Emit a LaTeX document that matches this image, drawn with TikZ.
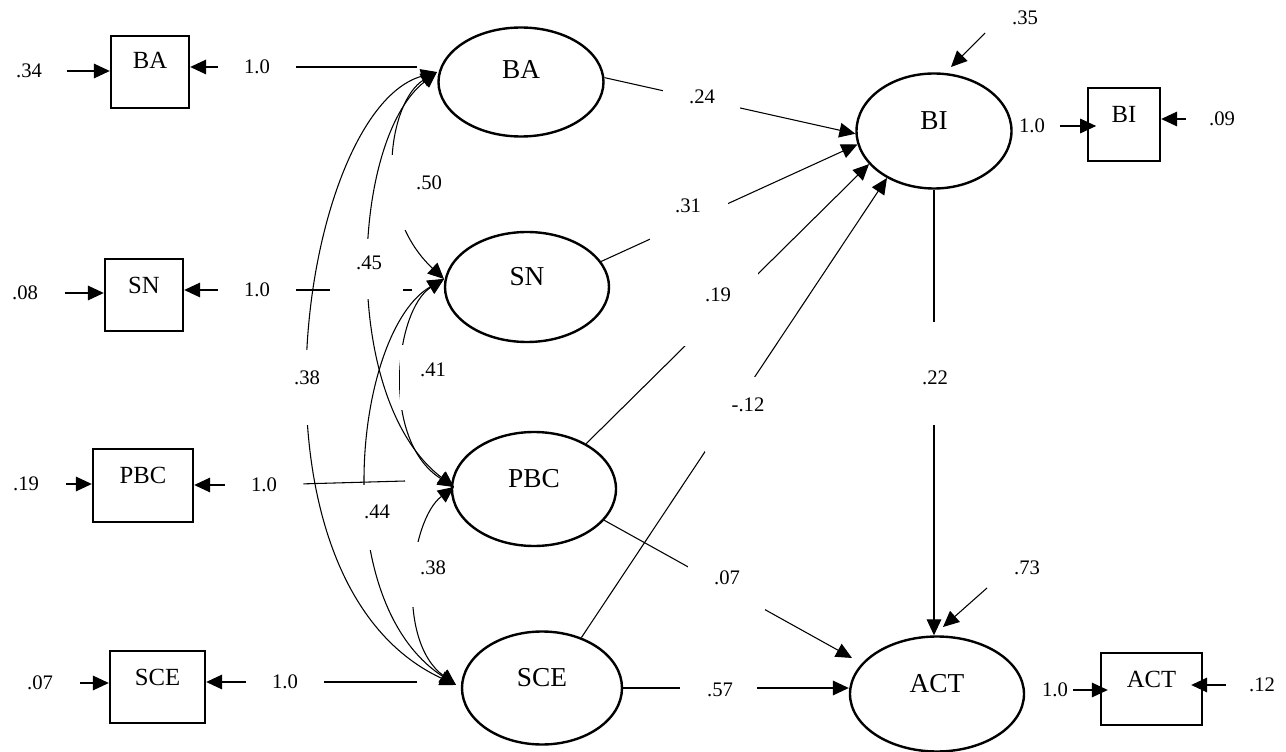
\documentclass[tikz,border=0pt]{standalone}
\usepackage{fontspec}
\setmainfont{Liberation Serif}
\usetikzlibrary{arrows.meta,shapes.geometric}
\newcommand\latfont{\fontsize{20.5}{24}\selectfont}
\newcommand\obsfont{\fontsize{18.5}{22}\selectfont}
\newcommand\coeffont{\fontsize{15.5}{18}\selectfont}
\begin{document}
\begin{tikzpicture}[x=0.75pt,y=-0.75pt,
  tip/.tip={Triangle[length=12pt,width=11pt]},
  conn/.style={line width=0.8pt},
  arr/.style={line width=0.8pt,-tip},
  darr/.style={line width=0.8pt,tip-tip},
  lat/.style={draw,line width=1.8pt,ellipse,inner sep=0pt},
  obs/.style={draw,line width=1.8pt,rectangle,inner sep=0pt},
  lattext/.style={font=\latfont,inner sep=0pt,yshift=8pt},
  obstext/.style={font=\obsfont,inner sep=0pt,yshift=7.5pt},
  coef/.style={font=\coeffont,inner sep=0pt},
  mask/.style={fill=white}
]
\useasboundingbox (0,0) rectangle (1286,752);

% latent variables
\node[lat,minimum width=123.75pt,minimum height=81.75pt,label={[lattext,yshift=1.5pt]center:BA}] (eBA) at (521,82) {};
\node[lat,minimum width=123pt,minimum height=82.5pt,label={[lattext]center:SN}] (eSN) at (527,287) {};
\node[lat,minimum width=123pt,minimum height=85.5pt,label={[lattext]center:PBC}] (ePBC) at (534,489) {};
\node[lat,minimum width=120pt,minimum height=84.75pt,label={[lattext]center:SCE}] (eSCE) at (542,688) {};
\node[lat,minimum width=116.25pt,minimum height=86.25pt,label={[lattext]center:BI}] (eBI) at (934,131) {};
\node[lat,minimum width=130.5pt,minimum height=86.25pt,label={[lattext]center:ACT}] (eACT) at (937,694) {};

% observed variables
\node[obs,minimum width=58.5pt,minimum height=54pt,label={[obstext,yshift=1.5pt]center:BA}] (bBA) at (150,72) {};
\node[obs,minimum width=58.5pt,minimum height=54pt,label={[obstext]center:SN}] (bSN) at (144,295) {};
\node[obs,minimum width=75pt,minimum height=54.75pt,label={[obstext]center:PBC}] (bPBC) at (143,485.5) {};
\node[obs,minimum width=71.25pt,minimum height=54pt,label={[obstext]center:SCE}] (bSCE) at (157.5,687) {};
\node[obs,minimum width=54pt,minimum height=54.75pt,label={[obstext]center:BI}] (bBI) at (1124,124.5) {};
\node[obs,minimum width=75.75pt,minimum height=54pt,label={[obstext]center:ACT}] (bACT) at (1151.5,689) {};

% error terms of the indicators
\node[coef,minimum width=56pt] (r34) at (29,71) {.34};
\node[coef,minimum width=60pt] (r08) at (25,293) {.08};
\node[coef,minimum width=60pt] (r19) at (26,484) {.19};
\node[coef,minimum width=60pt] (r07) at (40,683) {.07};
\draw[arr] (r34) -- (r34 -| bBA.west);
\draw[arr] (r08) -- (r08 -| bSN.west);
\draw[arr] (r19) -- (r19 -| bPBC.west);
\draw[arr] (r07) -- (r07 -| bSCE.west);

% loadings on the left
\node[coef,minimum width=58.5pt] (lBA) at (257,67) {1.0};
\node[coef,minimum width=58.5pt] (lSN) at (257,290) {1.0};
\node[coef,minimum width=58.5pt] (lPBC) at (264,485) {1.0};
\node[coef,minimum width=58.5pt] (lSCE) at (285,682) {1.0};
\coordinate (cBA) at (417,67);
\coordinate (cSN) at (412,290);
\coordinate (cPBC) at (405,481);
\coordinate (cSCE) at (417,682);
\draw[conn] (cBA) -- (lBA);   \draw[arr] (lBA) -- (lBA -| bBA.east);
\draw[conn] (cSN) -- (lSN);   \draw[arr] (lSN) -- (lSN -| bSN.east);
\draw[conn] (cPBC) -- (lPBC); \draw[arr] (lPBC) -- (lPBC -| bPBC.east);
\draw[conn] (cSCE) -- (lSCE); \draw[arr] (lSCE) -- (lSCE -| bSCE.east);

% loadings and errors on the right
\node[coef,minimum width=42pt] (lBI) at (1032,126) {1.0};
\node[coef,minimum width=54pt] (r09) at (1222,119) {.09};
\draw[arr,shorten >=-7pt] (lBI) -- (lBI -| bBI.west);
\draw[arr] (r09) -- (r09 -| bBI.east);
\node[coef,minimum width=27pt] (lACT) at (1055,690) {1.0};
\node[coef,minimum width=54pt] (r12) at (1262,685) {.12};
\draw[arr,shorten >=-6pt] (lACT) -- (lACT -| bACT.west);
\draw[arr,shorten >=-9pt] (r12) -- (r12 -| bACT.east);

% disturbances
\node[coef] (r35) at (1025,18) {.35};
\node[coef] (r73) at (1027,568) {.73};
\coordinate (s35) at (985,33);  \coordinate (t35) at (951,67);
\coordinate (s73) at (987,588); \coordinate (t73) at (943,627);
\draw[arr] (s35) -- (t35);
\draw[arr] (s73) -- (t73);

% covariances
\coordinate (aBA) at (437,72);
\coordinate (aSN) at (444,279);
\coordinate (aPBC) at (454,487);
\coordinate (aSCE) at (456,685);
\draw[darr] (aBA) .. controls (390,100) and (370,210) .. (aSN);
\draw[darr] (aBA) .. controls (350,140) and (340,400) .. (aPBC);
\draw[darr] (aBA) .. controls (300,110) and (230,580) .. (aSCE);
\draw[darr] (aSN) .. controls (395,310) and (380,440) .. (aPBC);
\draw[darr] (aSN) .. controls (355,330) and (325,600) .. (aSCE);
\draw[darr] (aPBC) .. controls (410,520) and (395,640) .. (aSCE);

% structural paths
\coordinate (tACT) at (852,658);
\draw[arr] (eBA.3) -- (eBI.182);
\draw[arr] (eSN.19) -- (eBI.190);
\draw[arr] (ePBC.41) -- (eBI.207);
\draw[arr] (eSCE.52) -- (eBI.225);
\draw[arr] (ePBC.336) -- (tACT);
\draw[arr] (eSCE.east) -- (eSCE.east -| eACT.west);
\draw[arr] (eBI.south) -- (eBI.south |- eACT.north);

% gaps behind the coefficients
\fill[mask] (663,80) rectangle (740,118);
\fill[mask] (650,195) rectangle (728,245);
\fill[mask] (683,270) rectangle (758,346);
\fill[mask] (705,377) rectangle (783,452);
\fill[mask] (688,555) rectangle (765,610);
\fill[mask] (680,675) rectangle (757,705);
\fill[mask] (915,322) rectangle (955,425);
\fill[mask] (390,155) rectangle (468,230);
\fill[mask] (330,239) rectangle (403,299);
\fill[mask] (270,350) rectangle (345,425);
\fill[mask] (400,345) rectangle (468,410);
\fill[mask] (350,485) rectangle (405,550);
\fill[mask] (398,542) rectangle (468,607);

% coefficients
\node[coef] (k24) at (702,97) {.24};
\node[coef] (k31) at (688,206) {.31};
\node[coef] (k19) at (718,295) {.19};
\node[coef] (k12) at (748,405) {-.12};
\node[coef] (k07) at (727,578) {.07};
\node[coef] (k57) at (720,690) {.57};
\node[coef] (k22) at (935,378) {.22};
\node[coef] (k50) at (429,183) {.50};
\node[coef] (k45) at (369,263) {.45};
\node[coef] (k38a) at (307,378) {.38};
\node[coef] (k41) at (433,370) {.41};
\node[coef] (k44) at (377,512) {.44};
\node[coef] (k38b) at (433,568) {.38};
\end{tikzpicture}
\end{document}
